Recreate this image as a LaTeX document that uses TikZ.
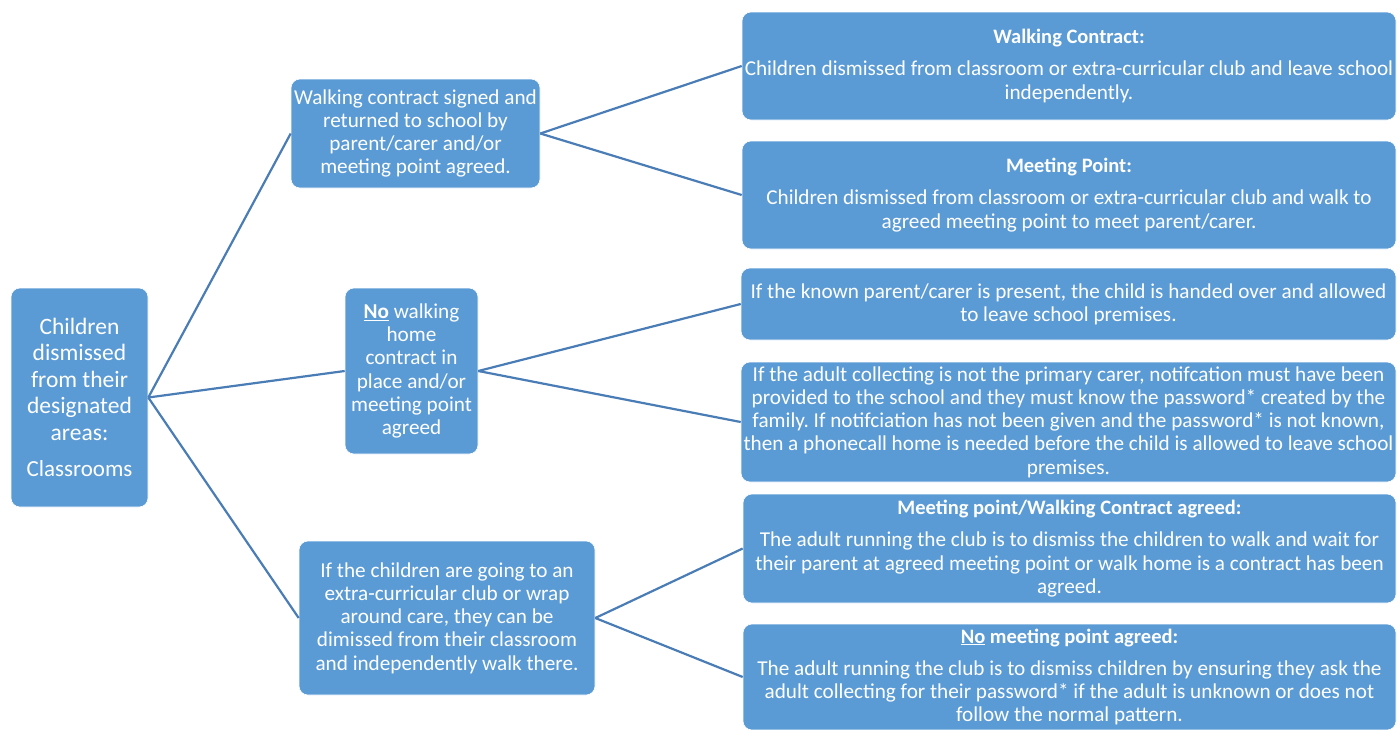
\documentclass[tikz,border=0pt]{standalone}
\usepackage{fontspec}
\setmainfont{Carlito}
\usetikzlibrary{positioning}
\frenchspacing

\definecolor{boxblue}{HTML}{5B9BD5}
\definecolor{lineblue}{HTML}{4A7DB6}

\newcommand{\headtext}[1]{{\fontsize{20.5}{23.3}\selectfont\bfseries #1}}

\tikzset{
  box/.style={fill=boxblue, draw=white, line width=0.6pt, rounded corners=9pt,
              text=white, align=center, inner sep=0pt,
              font=\fontsize{21.2}{23.3}\selectfont},
  link/.style={draw=lineblue, line width=2.2pt}
}

\begin{document}
\begin{tikzpicture}[x=1pt,y=-1pt]

\useasboundingbox (0,0) rectangle (1398,729);

%% left
\node[box, minimum width=137, minimum height=219,
      font=\fontsize{23.5}{26.5}\selectfont] (root) at (79.5,397.5)
  {Children\\dismissed\\from their\\designated\\areas:\\[10pt]{\fontsize{23}{26}\selectfont Classrooms}};

%% middle
\node[box, minimum width=249, minimum height=109] (contract) at (415.5,133.5)
  {Walking contract signed and\\returned to school by\\parent/carer and/or\\meeting point agreed.};
\node[box, minimum width=133, minimum height=166] (nocontract) at (411.5,371)
  {\textbf{\underline{No}} walking\\home\\contract in\\place and/or\\meeting point\\agreed};
\node[box, minimum width=296, minimum height=154] (club) at (447,618)
  {If the children are going to an\\extra-curricular club or wrap\\around care, they can be\\dimissed from their classroom\\and independently walk there.};

%% right
\node[box, minimum width=654, minimum height=108] (walk) at (1069,66)
  {\headtext{Walking Contract:}\\[9pt]Children dismissed from classroom or extra-curricular club and leave school\\independently.};
\node[box, minimum width=654, minimum height=108] (meet) at (1069,195)
  {\headtext{Meeting Point:}\\[9pt]Children dismissed from classroom or extra-curricular club and walk to\\agreed meeting point to meet parent/carer.};
\node[box, minimum width=655, minimum height=72] (known) at (1068.5,304)
  {If the known parent/carer is present, the child is handed over and allowed\\to leave school premises.};
\node[box, minimum width=655, minimum height=120] (other) at (1068.5,422)
  {If the adult collecting is not the primary carer, notifcation must have been\\provided to the school and they must know the password* created by the\\family. If notifciation has not been given and the password* is not known,\\then a phonecall home is needed before the child is allowed to leave school\\premises.};
\node[box, minimum width=653, minimum height=109] (agreed) at (1069.5,548.5)
  {\headtext{Meeting point/Walking Contract agreed:}\\[9pt]The adult running the club is to dismiss the children to walk and wait for\\their parent at agreed meeting point or walk home is a contract has been\\agreed.};
\node[box, minimum width=653, minimum height=106] (notagreed) at (1069.5,677)
  {\headtext{\underline{No} meeting point agreed:}\\[9pt]The adult running the club is to dismiss children by ensuring they ask the\\adult collecting for their password* if the adult is unknown or does not\\follow the normal pattern.};

%% connectors
\draw[link] (root.east) -- (contract.west);
\draw[link] (root.east) -- (nocontract.west);
\draw[link] (root.east) -- (club.west);

\draw[link] (contract.east) -- (walk.west);
\draw[link] (contract.east) -- (meet.west);
\draw[link] (nocontract.east) -- (known.west);
\draw[link] (nocontract.east) -- (other.west);
\draw[link] (club.east) -- (agreed.west);
\draw[link] (club.east) -- (notagreed.west);

\end{tikzpicture}
\end{document}
